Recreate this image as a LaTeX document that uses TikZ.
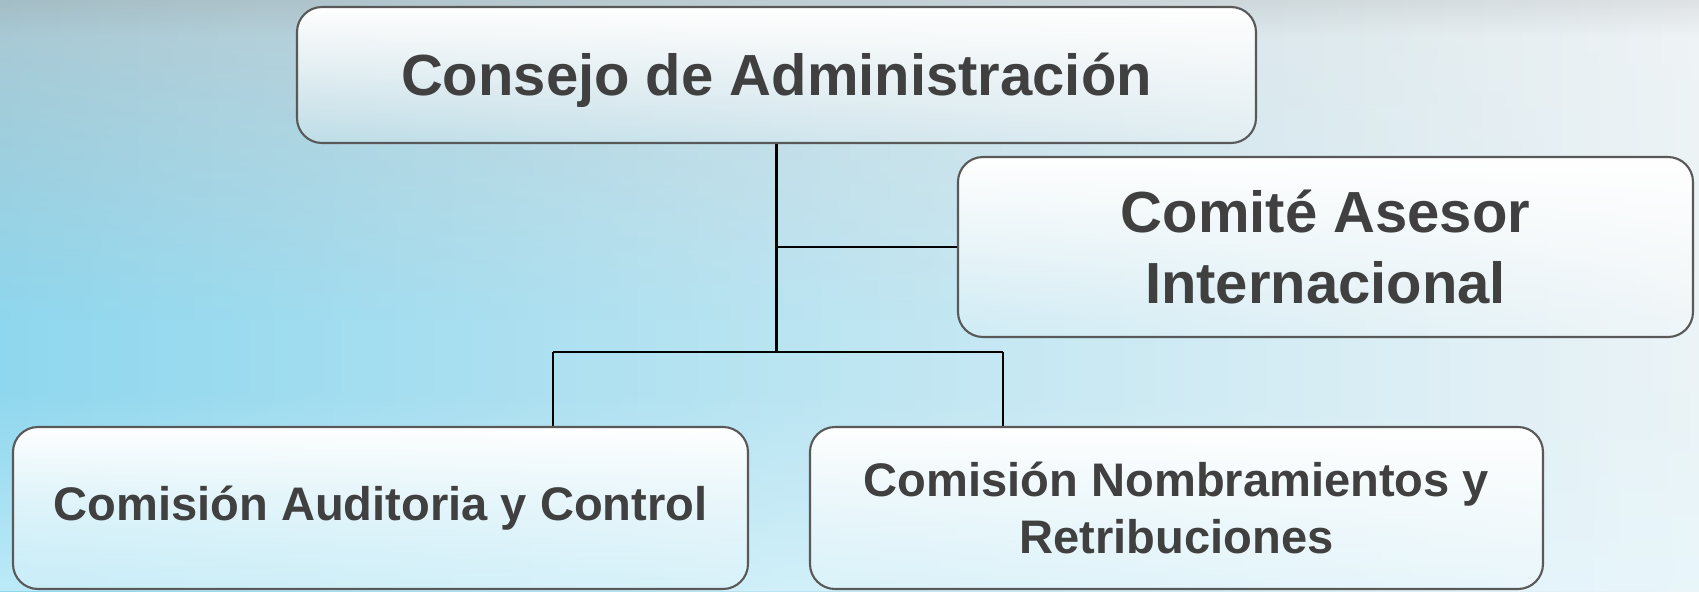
\documentclass[tikz,border=0pt]{standalone}
\usepackage{fontspec}
\setsansfont{Liberation Sans}
\usetikzlibrary{fadings}
\definecolor{textgrey}{HTML}{404040}
\definecolor{edgegrey}{HTML}{595959}
\definecolor{bgcyan}{HTML}{8FD7EE}
\definecolor{bgmid}{HTML}{BCDEE8}
\definecolor{bgwhite}{HTML}{EBF3F6}
\definecolor{topleft}{HTML}{ABC8D2}
\definecolor{topmid}{HTML}{C3D7DE}
\definecolor{topright}{HTML}{EFF3F5}
\definecolor{lowleft}{HTML}{C8EFFA}
\definecolor{lowright}{HTML}{E8F7FC}
\tikzfading[name=boxfade, top color=transparent!0, bottom color=transparent!80]
\begin{document}
\begin{tikzpicture}[
    box/.style={draw=edgegrey, line width=0.6pt, rounded corners=0.25cm, text=textgrey,
      preaction={fill=white, path fading=boxfade}, inner sep=0pt, align=center},
    big/.style={font=\sffamily\bfseries\fontsize{16.5}{20}\selectfont},
    small/.style={font=\sffamily\bfseries\fontsize{13.4}{16.4}\selectfont},
    link/.style={line width=0.6pt}]
  \useasboundingbox (0,0) rectangle (16.99,-5.91);
  % background
  \shade[left color=bgcyan, middle color=bgmid, right color=bgwhite] (0,0) rectangle (16.99,-5.91);
  \shade[left color=topleft, middle color=topmid, right color=topright, path fading=south] (0,0) rectangle (16.99,-3.2);
  \shade[left color=lowleft, right color=lowright, path fading=north, opacity=0.8] (0,-3.9) rectangle (16.99,-5.91);
  \fill[gray, path fading=south, opacity=0.15] (0,0) rectangle (16.99,-0.36);

  \node (consejo)       at (7.765,-0.75)  [box, big, text depth=0.07em, minimum width=9.59cm, minimum height=1.36cm] {Consejo de Administración};
  \node (comite)        at (13.255,-2.47) [box, big, minimum width=7.35cm, minimum height=1.80cm] {Comité Asesor\\Internacional};
  \node (auditoria)     at (3.805,-5.08)  [box, small, minimum width=7.35cm, minimum height=1.62cm] {Comisión Auditoria y Control};
  \node (nombramientos) at (11.765,-5.08) [box, small, minimum width=7.33cm, minimum height=1.62cm] {Comisión Nombramientos y\\Retribuciones};

  \coordinate (busL) at (5.53,-3.52);
  \coordinate (busR) at (10.03,-3.52);

  \draw[link] (consejo.south) -- (consejo.south |- busL);
  \draw[link] (consejo.south |- comite.west) -- (comite.west);
  \draw[link] (busL) -- (busR);
  \draw[link] (busL) -- (busL |- auditoria.north);
  \draw[link] (busR) -- (busR |- nombramientos.north);
\end{tikzpicture}
\end{document}
